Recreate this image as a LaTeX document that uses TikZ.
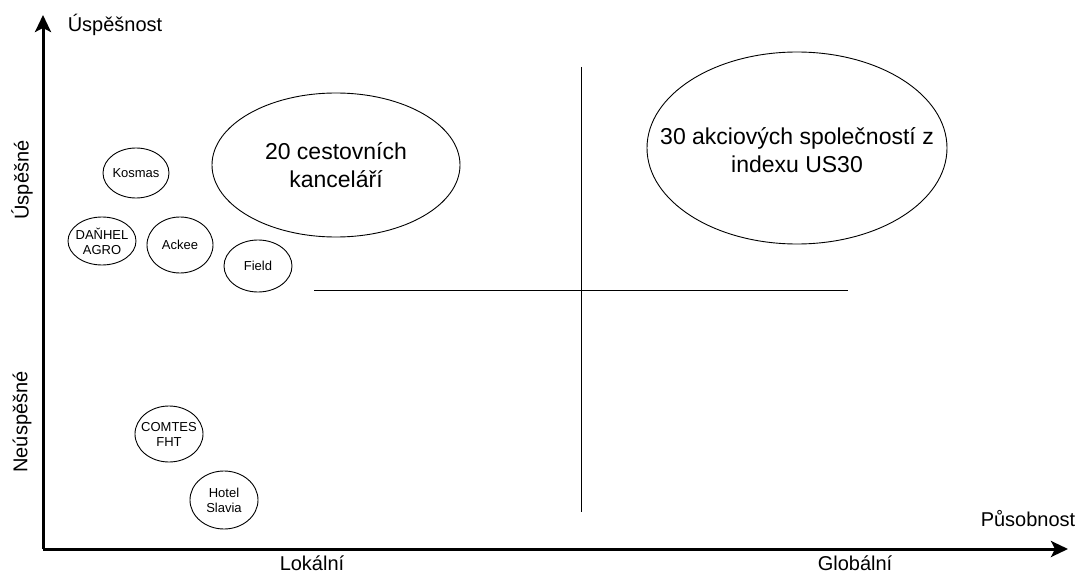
\documentclass[tikz,border=0pt]{standalone}
\usepackage{fontspec}
\setmainfont{Liberation Sans}
\usetikzlibrary{shapes.geometric,arrows.meta}
\begin{document}
\begin{tikzpicture}[x=1pt,y=-1pt,
  axis/.style={line width=3pt,-{Stealth[length=17pt,width=16pt,inset=4pt]}},
  quad/.style={line width=0.9pt},
  blob/.style={draw,ellipse,line width=0.9pt,inner sep=0pt},
  smalltxt/.style={font=\fontsize{13}{15}\selectfont,align=center,inner sep=0pt},
  bigtxt/.style={font=\fontsize{23}{28}\selectfont,align=center,inner sep=0pt},
  lbl/.style={font=\fontsize{20}{24}\selectfont,inner sep=0pt}]
\useasboundingbox (0,0) rectangle (1079,575);
% axes
\coordinate (origin) at (43,549);
\coordinate (ytip) at (43,15);
\coordinate (xtip) at (1068,549);
\draw[axis] (origin) -- (ytip);
\draw[axis] (origin) -- (xtip);
% quadrant lines
\coordinate (vtop) at (581,67);
\coordinate (vbot) at (581,512);
\coordinate (hl) at (314,290);
\coordinate (hr) at (848,290);
\draw[quad] (vtop) -- (vbot);
\draw[quad] (hl) -- (hr);
% axis labels
\node[lbl] (ylab) at (115,25) {Úspěšnost};
\node[lbl] (xlab) at (1028,519) {Působnost};
\node[lbl] (lok) at (312,563) {Lokální};
\node[lbl] (glob) at (855,563) {Globální};
\node[lbl,rotate=90] (usp) at (22,180) {Úspěšné};
\node[lbl,rotate=90] (neusp) at (22,422) {Neúspěšné};
% ellipses
\node[blob,minimum width=66pt,minimum height=50pt] (kosmas) at (136,173) {};
\node[smalltxt] at (kosmas.center) {Kosmas};
\node[blob,minimum width=68pt,minimum height=48pt] (danhel) at (102,241) {};
\node[smalltxt] at (danhel.center) {DAŇHEL\\AGRO};
\node[blob,minimum width=66pt,minimum height=56pt] (ackee) at (180,245) {};
\node[smalltxt] at (ackee.center) {Ackee};
\node[blob,minimum width=68pt,minimum height=52pt] (field) at (258,266) {};
\node[smalltxt] at (field.center) {Field};
\node[blob,minimum width=68pt,minimum height=56pt] (comtes) at (169,434) {};
\node[smalltxt] at (comtes.center) {COMTES\\FHT};
\node[blob,minimum width=68pt,minimum height=58pt] (hotel) at (224,500) {};
\node[smalltxt] at (hotel.center) {Hotel\\Slavia};
\node[blob,minimum width=248pt,minimum height=144pt] (cest) at (336,165) {};
\node[bigtxt] at (cest.center) {20 cestovních\\kanceláří};
\node[blob,minimum width=300pt,minimum height=192pt] (akc) at (797,148) {};
\node[bigtxt] at ([yshift=-2pt]akc.center) {30 akciových společností z\\indexu US30};
\end{tikzpicture}
\end{document}
